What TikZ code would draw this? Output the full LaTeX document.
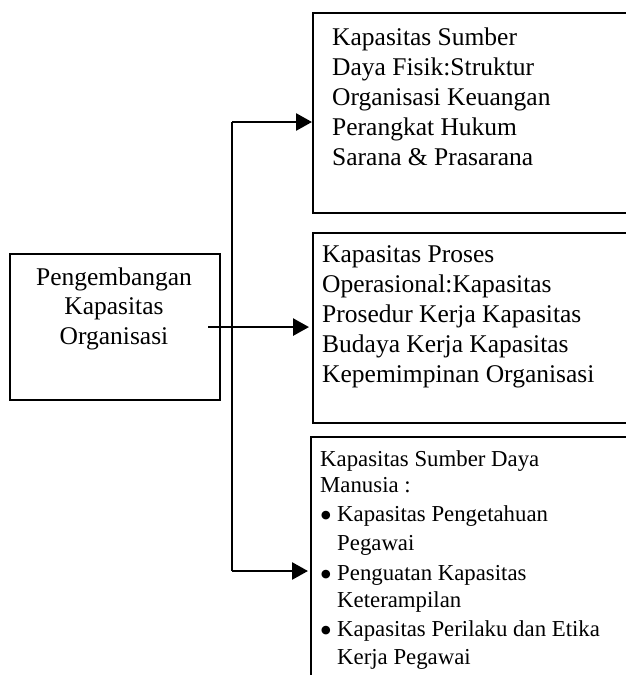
\documentclass[tikz,border=0pt]{standalone}
\usepackage{fontspec}
\setmainfont{Liberation Serif}
\usetikzlibrary{arrows.meta}
\begin{document}
\begin{tikzpicture}[x=1pt,y=-1pt,
  box/.style={draw, line width=2.1pt, inner sep=0pt, anchor=north west},
  conn/.style={line width=2.7pt},
  arr/.style={conn, -{Triangle[length=16pt,width=17pt]}},
  bigtxt/.style={inner sep=0pt, font=\fontsize{25.5}{30}\selectfont},
  smalltxt/.style={inner sep=0pt, anchor=base west, font=\fontsize{22.8}{27}\selectfont},
  bul/.style={inner sep=0pt, anchor=base, font=\fontsize{36}{36}\selectfont}]
\useasboundingbox (0,0) rectangle (626,675);
\clip (0,0) rectangle (626,675);
\fill[white] (0,0) rectangle (626,675);

% boxes
\node[box, minimum width=210pt, minimum height=146pt] (lbox) at (9,253) {};
\node[box, minimum width=400pt, minimum height=200pt] (box1) at (312,12) {};
\node[box, minimum width=400pt, minimum height=190pt] (box2) at (312,232) {};
\node[box, minimum width=400pt, minimum height=300pt] (box3) at (310,436) {};

% left box text
\foreach \t [count=\i] in {Pengembangan, Kapasitas, Organisasi}
  \node[bigtxt, anchor=base] (l\i) at (114,{285+29.5*(\i-1)}) {\t};

% box 1 text
\foreach \t [count=\i] in {Kapasitas Sumber, Daya Fisik:Struktur, Organisasi Keuangan, Perangkat Hukum, Sarana \& Prasarana}
  \node[bigtxt, anchor=base west] (a\i) at (332,{45+30.2*(\i-1)}) {\t};

% box 2 text
\foreach \t [count=\i] in {Kapasitas Proses, Operasional:Kapasitas, Prosedur Kerja Kapasitas, Budaya Kerja Kapasitas, Kepemimpinan Organisasi}
  \node[bigtxt, anchor=base west] (b\i) at (322,{262+30*(\i-1)}) {\t};

% box 3 text
\node[smalltxt] (c1) at (320,466) {Kapasitas Sumber Daya};
\node[smalltxt] (c2) at (320,492) {Manusia :};
\node[bul] (d1) at (326,527) {•};
\node[smalltxt] (c3) at (337,521) {Kapasitas Pengetahuan};
\node[smalltxt] (c4) at (337,550) {Pegawai};
\node[bul] (d2) at (326,586) {•};
\node[smalltxt] (c5) at (337,580) {Penguatan Kapasitas};
\node[smalltxt] (c6) at (337,607) {Keterampilan};
\node[bul] (d3) at (326,642) {•};
\node[smalltxt] (c7) at (337,636) {Kapasitas Perilaku dan Etika};
\node[smalltxt] (c8) at (337,664) {Kerja Pegawai};

% connectors
\coordinate (t1) at (232,122);
\coordinate (t3) at (232,571);
\draw[conn] (t3) -- (t1);
\draw[arr] (t1) -- (t1 -| box1.west);
\draw[arr] ([xshift=-13pt]lbox.east) -- ([xshift=-3pt]lbox.east -| box2.west);
\draw[arr] (t3) -- ([xshift=-2pt]t3 -| box3.west);
\end{tikzpicture}
\end{document}
